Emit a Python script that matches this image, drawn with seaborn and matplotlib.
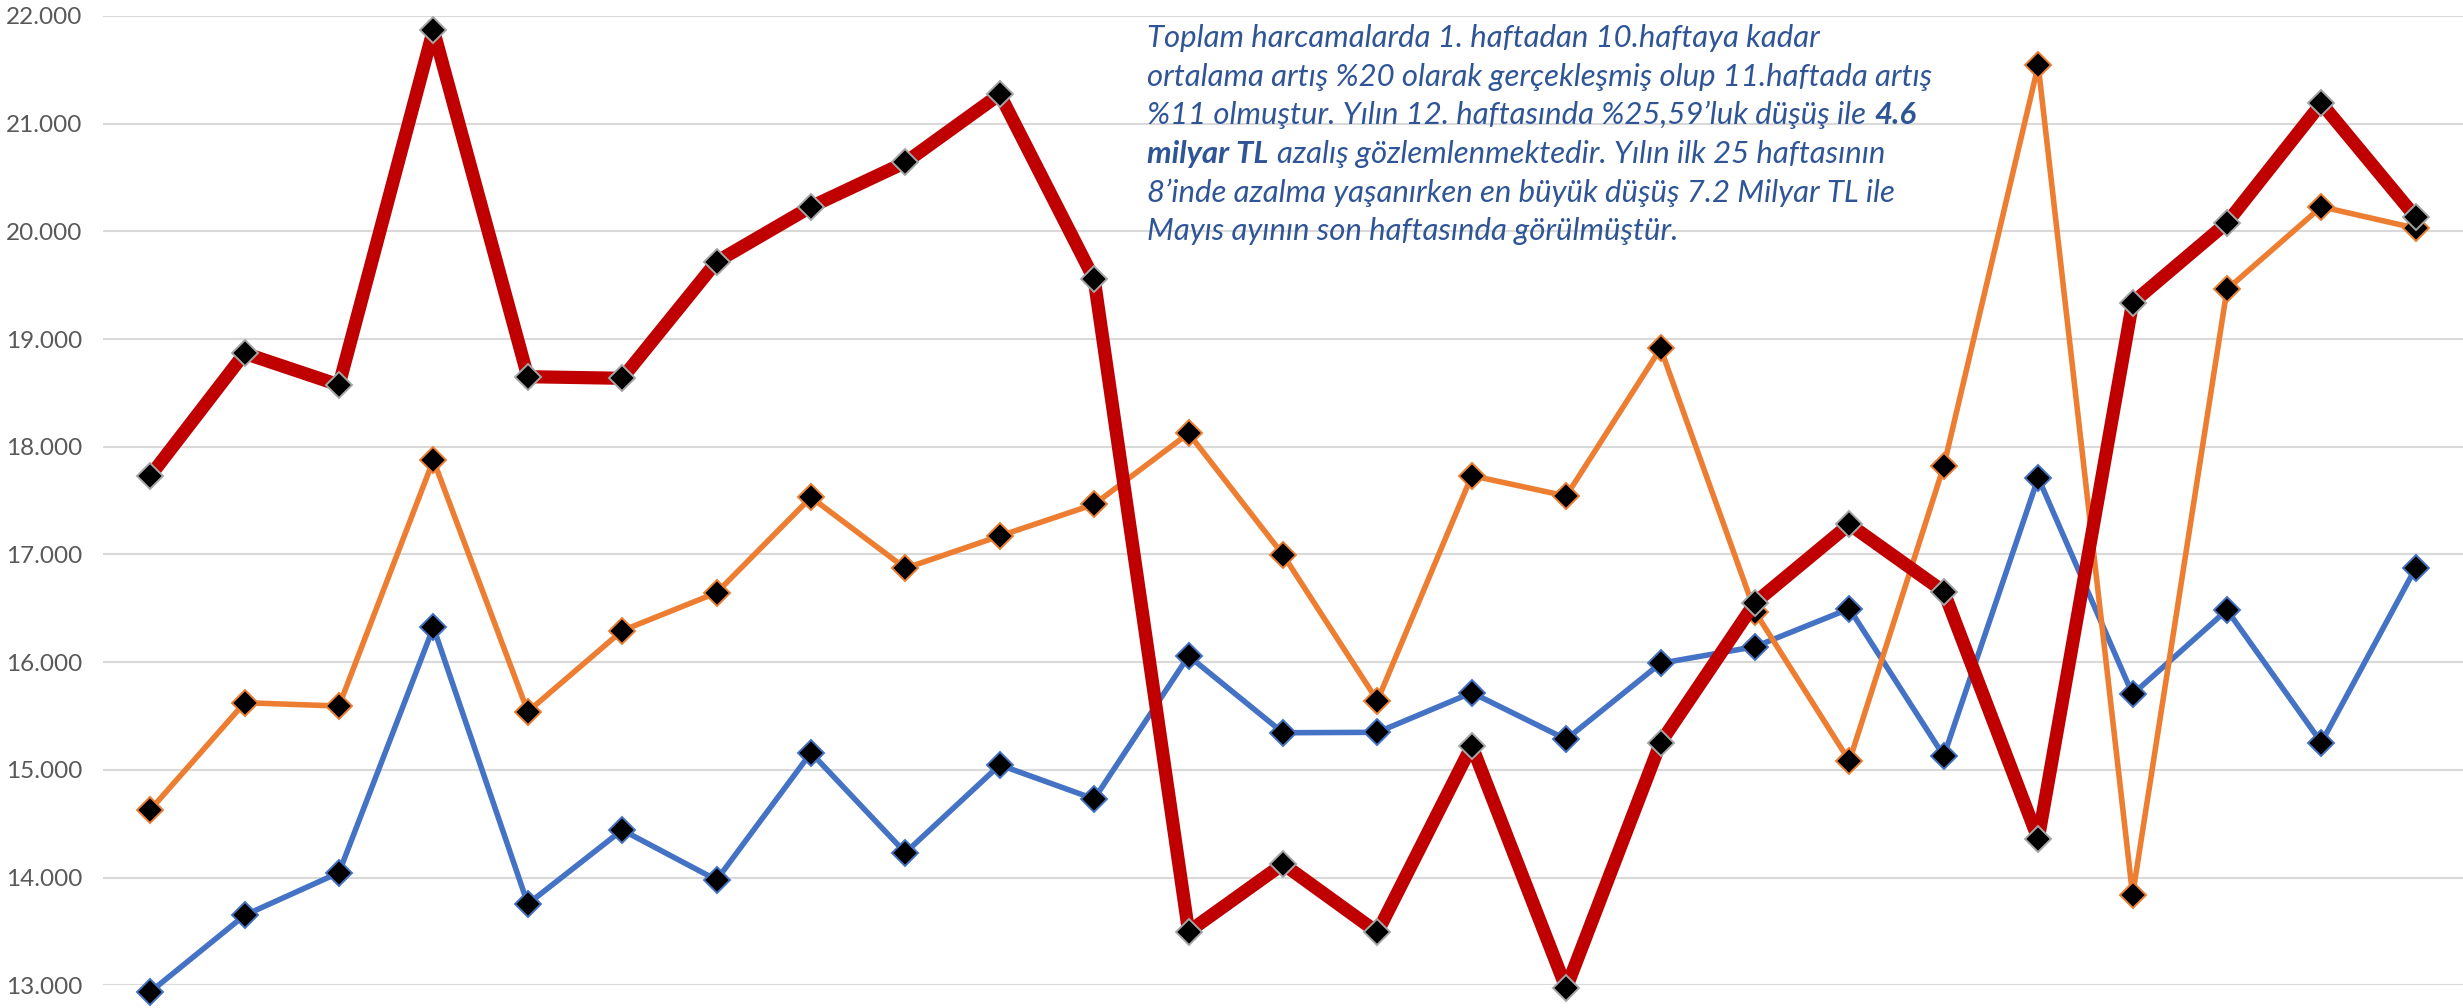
import numpy as np
import pandas as pd
import matplotlib
matplotlib.use("Agg")
import matplotlib.pyplot as plt
import seaborn as sns

# weekly spending, 25 weeks
weeks = list(range(1, 26))
blue_vals = [12938, 13650, 14046, 16324, 13755, 14442, 13978, 15160, 14231, 15046,
             14730, 16058, 15345, 15349, 15717, 15284, 15990, 16144, 16497, 15129,
             17713, 15702, 16485, 15253, 16878]
orange_vals = [14628, 15624, 15593, 17877, 15541, 16293, 16645, 17531, 16872, 17172,
               17466, 18125, 16998, 15643, 17732, 17543, 18914, 16469, 15083, 17822,
               21542, 13838, 19462, 20229, 20029]
red_vals = [17729, 18868, 18574, 21870, 18651, 18636, 19719, 20229, 20641, 21273,
            19555, 13498, 14126, 13492, 15225, 12972, 15253, 16553, 17280, 16655,
            14358, 19338, 20081, 21189, 20131]
y_ticks = list(range(13000, 22001, 1000))

note_lines = [
    [("Toplam harcamalarda 1. haftadan 10.haftaya kadar", "normal")],
    [("ortalama artış %20 olarak gerçekleşmiş olup 11.haftada artış", "normal")],
    [("%11 olmuştur. Yılın 12. haftasında %25,59’luk düşüş ile", "normal"), ("4.6", "bold")],
    [("milyar TL", "bold"), ("azalış gözlemlenmektedir. Yılın ilk 25 haftasının", "normal")],
    [("8’inde azalma yaşanırken en büyük düşüş 7.2 Milyar TL ile", "normal")],
    [("Mayıs ayının son haftasında görülmüştür.", "normal")],
]

sns.set_theme(style="white")
plt.rcParams["font.family"] = ["Lato", "DejaVu Sans"]

W, H = 2463, 1008
fig = plt.figure(figsize=(W / 100, H / 100), dpi=100)
ax = fig.add_axes([103 / W, 1 - 985.3 / H, 1 - 103 / W, (985.3 - 16) / H])

df = pd.DataFrame({"week": weeks, "blue": blue_vals, "orange": orange_vals, "red": red_vals})

series = [
    ("blue", "#4472C4", "#4472C4", 4.0),
    ("orange", "#ED7D31", "#ED7D31", 4.0),
    ("red", "#C00000", "#A6A6A6", 9.5),
]
for i, (col, color, edge, lw) in enumerate(series):
    sns.lineplot(data=df, x="week", y=col, ax=ax, color=color, linewidth=lw,
                 marker="D", markersize=13, markerfacecolor="black",
                 markeredgecolor=edge, markeredgewidth=1.4, clip_on=False,
                 zorder=3 + i)

ax.set_xlim(0.5, 25.5)
ax.set_ylim(13000, 22000)
ax.set_yticks(y_ticks)
ax.set_yticklabels([f"{v:,}".replace(",", ".") for v in y_ticks])
ax.set_xticks([])
ax.set_xlabel("")
ax.set_ylabel("")
ax.grid(axis="y", color="#D9D9D9", linewidth=1.5)
ax.set_axisbelow(True)
for s in ax.spines.values():
    s.set_visible(False)
ax.tick_params(axis="y", length=0, pad=15, labelsize=17.5, labelcolor="#595959")

# annotation text, drawn line by line so bold parts can be mixed in
renderer = fig.canvas.get_renderer()
txt_color = "#2F5597"
fs = 22.4
x0 = 1147 / W
for k, parts in enumerate(note_lines):
    y = 1 - (38 + 38.6 * k) / H
    x = x0
    for j, (s, w) in enumerate(parts):
        t = fig.text(x, y, s, fontsize=fs, style="italic", weight=w,
                     color=txt_color, va="center", ha="left")
        bb = t.get_window_extent(renderer)
        x = bb.x1 / W + 0.28 * fs / 72 * 100 / W

fig.savefig("out.png", dpi=100)
